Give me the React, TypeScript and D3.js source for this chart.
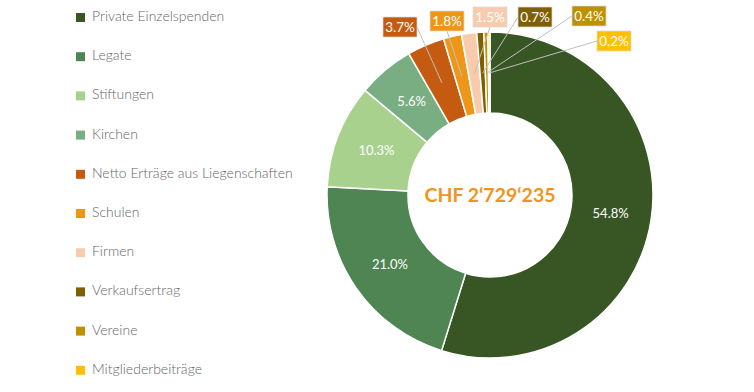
import React, { useEffect, useRef } from 'react';
import * as d3 from 'd3';

const categories = [
  'Private Einzelspenden',
  'Legate',
  'Stiftungen',
  'Kirchen',
  'Netto Erträge aus Liegenschaften',
  'Schulen',
  'Firmen',
  'Verkaufsertrag',
  'Vereine',
  'Mitgliederbeiträge',
];
const shares = [54.8, 21.0, 10.3, 5.6, 3.7, 1.8, 1.5, 0.7, 0.4, 0.2];
const colors = ['#375623', '#4e8553', '#a9d18e', '#79ae83', '#c55a11', '#ed9618', '#f8cbad', '#7f6000', '#bf9000', '#ffc000'];
const totalLabel = 'CHF 2‘729‘235';

// callout boxes for the thin slices (index -> box centre)
const callouts: { [i: number]: [number, number] } = {
  4: [400, 27],
  5: [447, 21],
  6: [490, 17],
  7: [535, 17],
  8: [589, 16],
  9: [614, 41],
};

const App: React.FC = () => {
  const svgRef = useRef<SVGSVGElement | null>(null);

  useEffect(() => {
    const width = 754;
    const height = 392;
    const cx = 490;
    const cy = 195;
    const outerR = 163;
    const innerR = 82;

    const svg = d3.select(svgRef.current).attr('width', width).attr('height', height);
    svg.selectAll('*').remove();

    const font = 'Lato, "Open Sans", sans-serif';

    // legend
    const legend = svg.append('g').attr('transform', 'translate(76, 13)');
    categories.forEach((c, i) => {
      const row = legend.append('g').attr('transform', `translate(0, ${i * 39.2})`);
      row.append('rect').attr('width', 9).attr('height', 9).attr('fill', colors[i]);
      row
        .append('text')
        .attr('x', 16)
        .attr('y', 8)
        .attr('fill', '#666')
        .style('font-family', font)
        .style('font-size', '14px')
        .style('font-weight', 300)
        .text(c);
    });

    const pie = d3.pie<number>().sort(null).value((d) => d);
    const arcs = pie(shares);
    const arc = d3.arc<d3.PieArcDatum<number>>().innerRadius(innerR).outerRadius(outerR);
    const midArc = d3.arc<d3.PieArcDatum<number>>().innerRadius(122).outerRadius(122);

    const g = svg.append('g').attr('transform', `translate(${cx}, ${cy})`);

    g.selectAll('path')
      .data(arcs)
      .enter()
      .append('path')
      .attr('d', arc)
      .attr('fill', (_, i) => colors[i])
      .attr('stroke', '#fff')
      .attr('stroke-width', 1.5);

    // inside labels
    arcs.forEach((a, i) => {
      if (callouts[i]) return;
      const [x, y] = midArc.centroid(a);
      g.append('text')
        .attr('x', x)
        .attr('y', y)
        .attr('text-anchor', 'middle')
        .attr('dy', '0.35em')
        .attr('fill', '#fff')
        .style('font-family', font)
        .style('font-size', '13px')
        .text(shares[i].toFixed(1) + '%');
    });

    // callout labels
    arcs.forEach((a, i) => {
      const pos = callouts[i];
      if (!pos) return;
      const [px, py] = midArc.centroid(a);
      const bx = pos[0] - cx;
      const by = pos[1] - cy;
      const bw = 34;
      const bh = 20;
      const lx = bx + (bx < px - 20 ? bw / 2 : bx > px + 20 ? -bw / 2 : 0);
      g.append('line')
        .attr('x1', lx)
        .attr('y1', by + (bx < px - 20 || bx > px + 20 ? 0 : bh / 2))
        .attr('x2', px)
        .attr('y2', py)
        .attr('stroke', '#bfbfbf')
        .attr('stroke-width', 1);
      g.append('rect')
        .attr('x', bx - bw / 2)
        .attr('y', by - bh / 2)
        .attr('width', bw)
        .attr('height', bh)
        .attr('fill', colors[i])
        .attr('stroke', '#d9d9d9')
        .attr('stroke-width', 0.75);
      g.append('text')
        .attr('x', bx)
        .attr('y', by)
        .attr('dy', '0.36em')
        .attr('text-anchor', 'middle')
        .attr('fill', '#fff')
        .style('font-family', font)
        .style('font-size', '13.5px')
        .text(shares[i].toFixed(1) + '%');
    });

    g.append('text')
      .attr('x', 0)
      .attr('y', 0)
      .attr('dy', '0.35em')
      .attr('text-anchor', 'middle')
      .attr('fill', '#f0941e')
      .style('font-family', font)
      .style('font-size', '19.5px')
      .style('font-weight', 'bold')
      .text(totalLabel);
  }, []);

  return (
    <div style={{ position: 'absolute', left: 0, top: 0, background: '#fff' }}>
      <svg ref={svgRef} style={{ display: 'block' }}></svg>
    </div>
  );
};

export default App;
